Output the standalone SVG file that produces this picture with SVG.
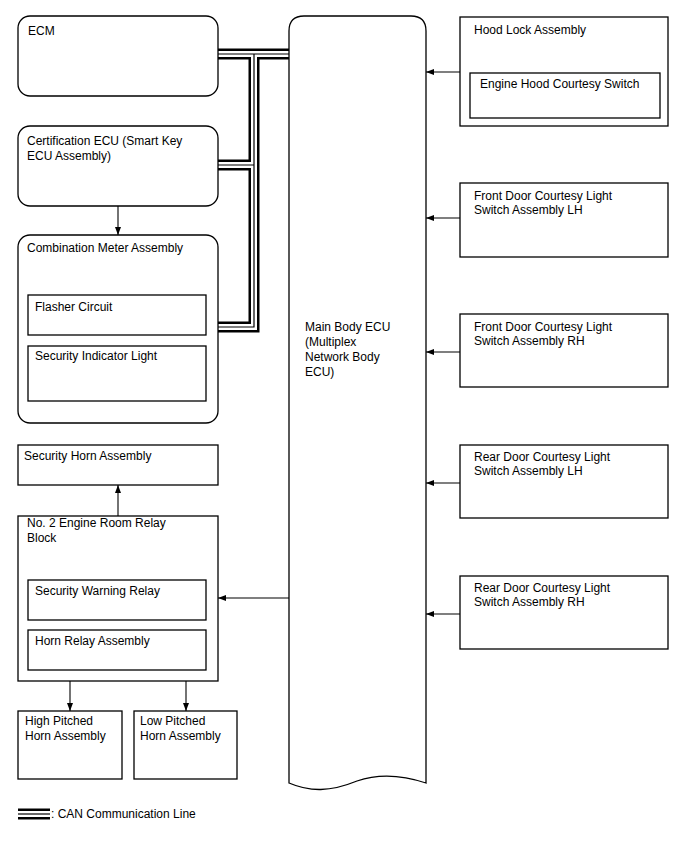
<svg xmlns="http://www.w3.org/2000/svg" width="688" height="852" viewBox="0 0 688 852">
<defs>
<style>
text{font-family:"Liberation Sans",Arial,sans-serif;font-size:12px;fill:#000}
.box{fill:#fff;stroke:#000;stroke-width:1.3}
.arr{fill:none;stroke:#000;stroke-width:1.1;marker-end:url(#ah)}
.canA{fill:none;stroke:#000;stroke-width:11;stroke-linejoin:miter}
.canB{fill:none;stroke:#fff;stroke-width:6;stroke-linejoin:miter}
.canC{fill:none;stroke:#000;stroke-width:1.2;stroke-linejoin:miter}
</style>
<marker id="ah" markerWidth="8" markerHeight="6" refX="8" refY="3" orient="auto" markerUnits="userSpaceOnUse">
<path d="M0,0 L8,3 L0,6 Z" fill="#000"/>
</marker>
</defs>
<rect width="688" height="852" fill="#fff"/>

<g id="connectors">
<path class="canA" d="M218,54 H289 M254,54 V327 H218 M218,165 H254"/>
<path class="canB" d="M216,54 H291 M254,54 V327 H216 M216,165 H254"/>
<path class="canC" d="M218,54 H289 M254,54 V327 H218 M218,165 H254"/>
<path class="arr" d="M118,206 V235"/>
<path class="arr" d="M118,516 V485"/>
<path class="arr" d="M70,681 V711"/>
<path class="arr" d="M186,681 V711"/>
<path class="arr" d="M289,598 H218"/>
<path class="arr" d="M460,72 H426"/>
<path class="arr" d="M460,218 H426"/>
<path class="arr" d="M460,352 H426"/>
<path class="arr" d="M460,483 H426"/>
<path class="arr" d="M460,614 H426"/>
</g>

<g id="ecm">
<rect class="box" x="18" y="16" width="200" height="80" rx="12"/>
<text x="28" y="35">ECM</text>
</g>
<g id="cert-ecu">
<rect class="box" x="18" y="126" width="200" height="80" rx="12"/>
<text x="27" y="145">Certification ECU (Smart Key</text>
<text x="27" y="160">ECU Assembly)</text>
</g>
<g id="combination-meter">
<rect class="box" x="18" y="235" width="200" height="188" rx="12"/>
<text x="27" y="252">Combination Meter Assembly</text>
</g>
<g id="flasher-circuit">
<rect class="box" x="28" y="295" width="178" height="40"/>
<text x="35" y="311">Flasher Circuit</text>
</g>
<g id="security-indicator">
<rect class="box" x="28" y="346" width="178" height="55"/>
<text x="35" y="360">Security Indicator Light</text>
</g>
<g id="security-horn">
<rect class="box" x="18" y="445" width="200" height="40"/>
<text x="24" y="460">Security Horn Assembly</text>
</g>
<g id="relay-block">
<rect class="box" x="18" y="516" width="200" height="165"/>
<text x="27" y="527">No. 2 Engine Room Relay</text>
<text x="27" y="542">Block</text>
</g>
<g id="security-warning-relay">
<rect class="box" x="28" y="580" width="178" height="40"/>
<text x="35" y="595">Security Warning Relay</text>
</g>
<g id="horn-relay">
<rect class="box" x="28" y="630" width="178" height="40"/>
<text x="35" y="645">Horn Relay Assembly</text>
</g>
<g id="high-horn">
<rect class="box" x="18" y="711" width="104" height="68"/>
<text x="25" y="725">High Pitched</text>
<text x="25" y="740">Horn Assembly</text>
</g>
<g id="low-horn">
<rect class="box" x="134" y="711" width="103" height="68"/>
<text x="140" y="725">Low Pitched</text>
<text x="140" y="740">Horn Assembly</text>
</g>

<g id="main-body-ecu">
<path class="box" d="M289,783 V31 Q289,16 304,16 H411 Q426,16 426,31 V783 C405,776 380,773 357,781 C330,792 310,792 289,783 Z"/>
<text x="305" y="331">Main Body ECU</text>
<text x="305" y="346">(Multiplex</text>
<text x="305" y="361">Network Body</text>
<text x="305" y="376">ECU)</text>
</g>

<g id="hood-lock">
<rect class="box" x="460" y="17" width="208" height="109"/>
<text x="474" y="34">Hood Lock Assembly</text>
</g>
<g id="hood-switch">
<rect class="box" x="470" y="73" width="190" height="45"/>
<text x="480" y="88">Engine Hood Courtesy Switch</text>
</g>
<g id="front-lh">
<rect class="box" x="460" y="183" width="208" height="74"/>
<text x="474" y="200">Front Door Courtesy Light</text>
<text x="474" y="214">Switch Assembly LH</text>
</g>
<g id="front-rh">
<rect class="box" x="460" y="314" width="208" height="73"/>
<text x="474" y="331">Front Door Courtesy Light</text>
<text x="474" y="345">Switch Assembly RH</text>
</g>
<g id="rear-lh">
<rect class="box" x="460" y="445" width="208" height="73"/>
<text x="474" y="461">Rear Door Courtesy Light</text>
<text x="474" y="475">Switch Assembly LH</text>
</g>
<g id="rear-rh">
<rect class="box" x="460" y="576" width="208" height="73"/>
<text x="474" y="592">Rear Door Courtesy Light</text>
<text x="474" y="606">Switch Assembly RH</text>
</g>

<g id="legend">
<path class="canA" d="M18,814 H50"/>
<path class="canB" d="M17,814 H51"/>
<path class="canC" d="M18,814 H50"/>
<text x="51" y="818">: CAN Communication Line</text>
</g>
</svg>
